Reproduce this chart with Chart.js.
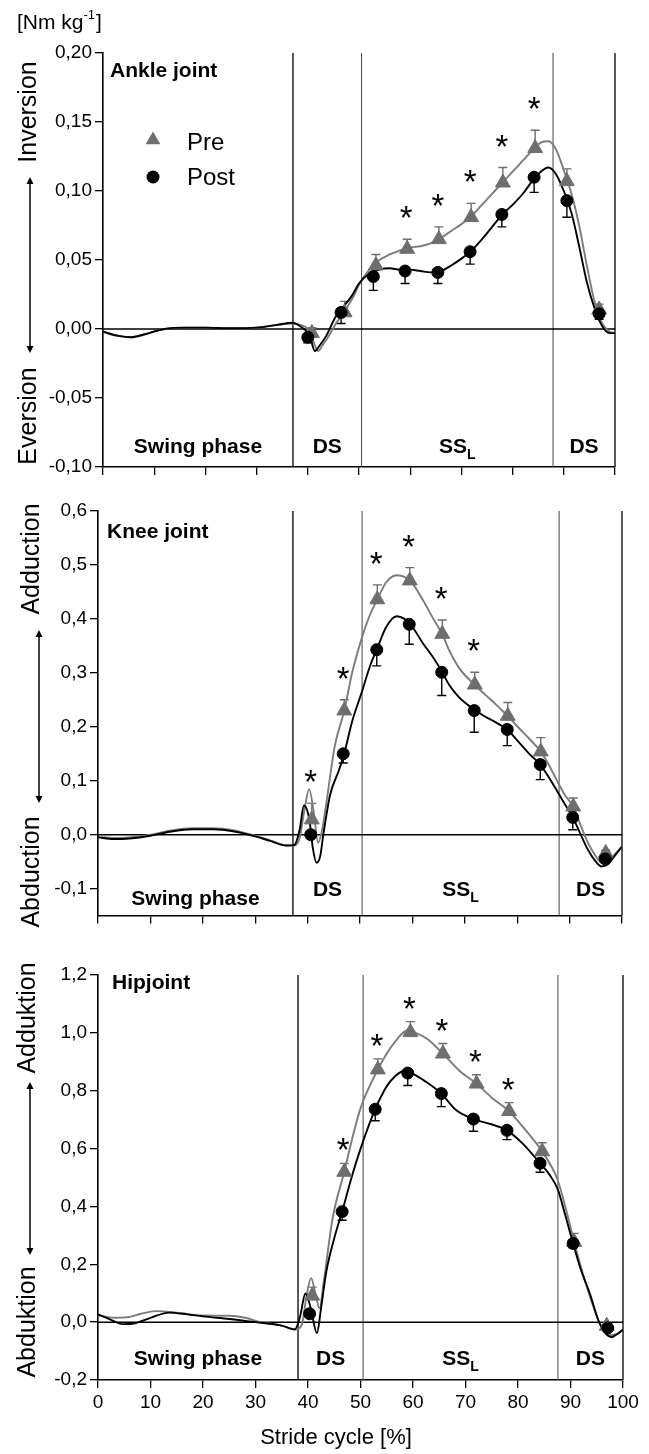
<!DOCTYPE html>
<html lang="en">
<head>
<meta charset="UTF-8">
<meta name="viewport" content="width=device-width, initial-scale=1.0">
<title>Joint moments - Pre vs Post</title>
<script src="https://cdn.jsdelivr.net/npm/chart.js"></script>
<style>
    html, body { margin: 0; padding: 0; background: #fff; }
    body { position: relative; width: 649px; height: 1454px; overflow: hidden; }
    canvas { position: absolute; left: 0; }
</style>
</head>
<body>
<canvas id="ankle" width="649" height="490" style="top:0px"></canvas>
<canvas id="knee" width="649" height="440" style="top:490px"></canvas>
<canvas id="hip" width="649" height="524" style="top:930px"></canvas>

<script>
// ---------- data ----------
const xTicks = [0, 10, 20, 30, 40, 50, 60, 70, 80, 90, 100];

// Ankle joint
const ankleTicks = [-0.10, -0.05, 0.00, 0.05, 0.10, 0.15, 0.20];
const anklePhases = [37.1, 50.5, 87.9, 100];
const anklePreCurveX = [0, 3, 5.5, 8, 12, 16, 20, 25, 30, 34, 37, 38.5, 40, 41, 42, 43, 44.1, 45.5, 47.2, 49, 50, 52, 54, 56, 58, 60, 62, 64, 66, 68, 70, 72, 74, 76, 78, 80, 82, 84, 85.5, 87, 88.5, 90, 91.5, 93, 94.5, 96, 97.5, 99, 100];
const anklePreCurve = [-0.002, -0.005, -0.006, -0.004, 0.000, 0.001, 0.001, 0.0005, 0.001, 0.003, 0.004, 0.003, 0.000, -0.008, -0.016, -0.011, -0.005, 0.004, 0.013, 0.024, 0.032, 0.043, 0.050, 0.054, 0.057, 0.059, 0.060, 0.062, 0.066, 0.071, 0.076, 0.082, 0.090, 0.098, 0.106, 0.114, 0.122, 0.130, 0.135, 0.136, 0.130, 0.115, 0.098, 0.075, 0.046, 0.020, 0.004, -0.002, -0.003];
const anklePostCurveX = [0, 3, 5.5, 8, 12, 16, 20, 25, 30, 34, 37, 38.5, 39.8, 40.6, 41.4, 42.3, 43.6, 45.3, 46.5, 48.6, 50, 52, 54, 56, 58, 60, 62, 64, 66, 68, 70, 72, 74, 76, 78, 80, 82, 84, 85.5, 87, 88.5, 90, 91.5, 93, 94.5, 96, 97.5, 99, 100];
const anklePostCurve = [-0.002, -0.005, -0.006, -0.004, 0.000, 0.001, 0.001, 0.0005, 0.001, 0.003, 0.0045, 0.002, -0.002, -0.008, -0.016, -0.012, -0.005, 0.008, 0.014, 0.024, 0.033, 0.040, 0.043, 0.044, 0.043, 0.043, 0.042, 0.041, 0.042, 0.046, 0.051, 0.057, 0.065, 0.074, 0.083, 0.090, 0.098, 0.108, 0.114, 0.117, 0.112, 0.100, 0.084, 0.060, 0.034, 0.015, 0.002, -0.003, -0.003];
const anklePreX = [40.8, 47.2, 53.3, 59.4, 65.6, 71.9, 78.1, 84.4, 90.6, 96.9];
const anklePre = [-0.003, 0.012, 0.046, 0.058, 0.065, 0.081, 0.106, 0.131, 0.107, 0.014];
const anklePreErr = [0.004, 0.008, 0.008, 0.007, 0.009, 0.010, 0.011, 0.013, 0.009, 0.004];
const anklePostX = [40.0, 46.5, 52.8, 59.0, 65.4, 71.7, 77.9, 84.2, 90.6, 96.9];
const anklePost = [-0.006, 0.012, 0.038, 0.042, 0.041, 0.056, 0.083, 0.110, 0.093, 0.011];
const anklePostErr = [0.004, 0.008, 0.010, 0.009, 0.008, 0.009, 0.009, 0.011, 0.012, 0.004];
const ankleSig = [0, 0, 0, 1, 1, 1, 1, 1, 0, 0];

// Knee joint
const kneeTicks = [-0.1, 0.0, 0.1, 0.2, 0.3, 0.4, 0.5, 0.6];
const kneePhases = [37.2, 50.4, 88.0, 100];
const kneePreCurveX = [0, 3, 6, 10, 14, 18, 22, 26, 30, 33, 36, 37.5, 38.5, 39.3, 40.3, 41.2, 42, 42.8, 43.6, 45.2, 47, 48.5, 50.3, 52, 53.3, 55, 57, 58.5, 60, 62, 64, 65.7, 67, 68.7, 70, 71.9, 73.5, 75, 76.5, 78.2, 80, 82.5, 84.5, 86, 87.5, 89, 90.7, 92, 93.5, 95, 96.1, 97.3, 98.3, 100];
const kneePreCurve = [-0.004, -0.006, -0.005, 0.000, 0.008, 0.012, 0.012, 0.008, -0.002, -0.011, -0.020, -0.020, -0.005, 0.040, 0.084, 0.040, -0.015, 0.010, 0.060, 0.165, 0.230, 0.300, 0.363, 0.410, 0.436, 0.468, 0.481, 0.478, 0.466, 0.435, 0.400, 0.372, 0.342, 0.312, 0.296, 0.278, 0.263, 0.250, 0.236, 0.220, 0.201, 0.176, 0.154, 0.130, 0.102, 0.075, 0.052, 0.020, -0.015, -0.040, -0.052, -0.052, -0.040, -0.022];
const kneePostCurveX = [0, 3, 6, 10, 14, 18, 22, 26, 30, 33, 36, 37.5, 38.5, 39.3, 40.3, 41, 41.7, 42.4, 43, 44.3, 46, 47, 48.5, 50.3, 52, 53.2, 55, 57, 58.5, 60, 62, 64, 65.6, 67, 68.7, 70, 71.8, 73.5, 75, 76.5, 78.1, 80, 82.5, 84.4, 86, 87.5, 89, 90.6, 92, 93.5, 95, 96.1, 97.3, 98.3, 100];
const kneePostCurve = [-0.005, -0.008, -0.007, -0.002, 0.006, 0.010, 0.010, 0.006, -0.003, -0.012, -0.020, -0.019, 0.010, 0.054, 0.030, -0.025, -0.052, -0.040, 0.000, 0.074, 0.120, 0.151, 0.210, 0.263, 0.315, 0.343, 0.385, 0.405, 0.400, 0.385, 0.355, 0.328, 0.303, 0.278, 0.257, 0.245, 0.232, 0.221, 0.213, 0.205, 0.195, 0.175, 0.148, 0.130, 0.107, 0.083, 0.058, 0.032, 0.003, -0.028, -0.050, -0.059, -0.055, -0.043, -0.022];
const kneePreX = [40.8, 47.0, 53.3, 59.5, 65.7, 71.9, 78.2, 84.5, 90.7, 96.9];
const kneePre = [0.028, 0.230, 0.436, 0.471, 0.372, 0.278, 0.220, 0.154, 0.052, -0.034];
const kneePreErr = [0.030, 0.020, 0.027, 0.024, 0.026, 0.023, 0.025, 0.026, 0.016, 0.005];
const kneePostX = [40.6, 46.8, 53.2, 59.4, 65.6, 71.8, 78.1, 84.4, 90.6, 96.8];
const kneePost = [0.000, 0.150, 0.343, 0.390, 0.301, 0.230, 0.195, 0.130, 0.032, -0.045];
const kneePostErr = [0.005, 0.017, 0.030, 0.037, 0.043, 0.040, 0.030, 0.028, 0.023, 0.005];
const kneeSig = [1, 1, 1, 1, 1, 1, 0, 0, 0, 0];

// Hip joint
const hipTicks = [-0.2, 0.0, 0.2, 0.4, 0.6, 0.8, 1.0, 1.2];
const hipPhases = [38.1, 50.5, 87.6, 100];
const hipPreCurveX = [0, 3.1, 6, 8, 11, 15, 20, 25, 28, 31, 35, 37.5, 38.8, 39.8, 40.6, 41.4, 42.2, 43, 44.7, 46.9, 48.5, 50, 53.3, 56.2, 59, 60.5, 62.8, 65.7, 68.9, 72.1, 75, 78.3, 81.6, 84.6, 87.5, 89, 90.7, 92, 93.5, 95.6, 97.5, 99, 100];
const hipPreCurve = [0.023, 0.015, 0.018, 0.028, 0.038, 0.033, 0.023, 0.022, 0.015, 0.000, -0.012, -0.026, -0.010, 0.100, 0.152, 0.100, 0.048, 0.140, 0.360, 0.519, 0.640, 0.739, 0.873, 0.960, 1.008, 1.000, 0.978, 0.928, 0.868, 0.824, 0.776, 0.729, 0.660, 0.590, 0.494, 0.400, 0.277, 0.190, 0.100, -0.005, -0.045, -0.040, -0.026];
const hipPostCurveX = [0, 2.5, 4.7, 7, 10, 13.6, 17, 20, 25, 30, 35, 37.5, 38.5, 39.5, 40.5, 41.7, 42.5, 43.5, 45, 46.5, 48.3, 50.1, 52.8, 54.5, 55.9, 58.3, 60, 62.2, 65.4, 68.2, 71.5, 74.9, 77.9, 80.9, 84.2, 86, 87.6, 89, 90.5, 92, 93.6, 95.6, 97.8, 99, 100];
const hipPostCurve = [0.027, 0.008, -0.007, -0.004, 0.015, 0.033, 0.027, 0.020, 0.011, 0.000, -0.012, -0.025, 0.020, 0.099, 0.050, -0.038, 0.050, 0.176, 0.290, 0.382, 0.500, 0.604, 0.736, 0.800, 0.837, 0.868, 0.858, 0.834, 0.790, 0.733, 0.702, 0.684, 0.663, 0.617, 0.549, 0.510, 0.458, 0.370, 0.272, 0.180, 0.103, -0.007, -0.052, -0.040, -0.026];
const hipPreX = [40.8, 46.9, 53.3, 59.5, 65.7, 72.1, 78.3, 84.6, 90.7, 96.9];
const hipPre = [0.091, 0.519, 0.873, 1.002, 0.928, 0.824, 0.729, 0.590, 0.277, -0.013];
const hipPreErr = [0.030, 0.030, 0.037, 0.037, 0.035, 0.031, 0.030, 0.030, 0.030, 0.005];
const hipPostX = [40.3, 46.5, 52.8, 59.0, 65.4, 71.5, 77.9, 84.2, 90.5, 97.1];
const hipPost = [0.029, 0.382, 0.736, 0.861, 0.790, 0.702, 0.663, 0.549, 0.272, -0.020];
const hipPostErr = [0.010, 0.030, 0.040, 0.043, 0.045, 0.042, 0.032, 0.031, 0.015, 0.005];
const hipSig = [0, 1, 1, 1, 1, 1, 1, 0, 0, 0];

// ---------- styling ----------
const FONT = '"Liberation Sans", Arial, Helvetica, sans-serif';
const GRAY = '#6e6e6e';
const GRAY_LINE = '#7c7c7c';
const TRI_R = 8.6;   // triangle marker radius
const DOT_R = 6;     // circle marker radius

function pts(xs, ys) {
    return xs.map((x, i) => ({ x: x, y: ys[i] }));
}

// panel layout (page pixel coordinates)
const panels = [
    {
        id: 'ankle', top: 0, area: { left: 103, right: 615, top: 53, bottom: 467 },
        min: -0.10, max: 0.20, yTicks: ankleTicks, decimals: 2, phases: anklePhases,
        preCurveX: anklePreCurveX, preCurve: anklePreCurve, postCurveX: anklePostCurveX, postCurve: anklePostCurve,
        preX: anklePreX, pre: anklePre, preErr: anklePreErr, postX: anklePostX, post: anklePost, postErr: anklePostErr, sig: ankleSig,
        title: 'Ankle joint', titleX: 110, titleY: 71,
        up: 'Inversion', upY: 112, down: 'Eversion', downY: 416, sideX: 29, arrowX: 30, arrowTop: 177, arrowBottom: 353,
        swingY: 447, dsY: 447, starOffset: 27, xLabels: false, legend: true, unit: true
    },
    {
        id: 'knee', top: 490, area: { left: 98, right: 622, top: 511, bottom: 916 },
        min: -0.15, max: 0.60, yTicks: kneeTicks, decimals: 1, phases: kneePhases,
        preCurveX: kneePreCurveX, preCurve: kneePreCurve, postCurveX: kneePostCurveX, postCurve: kneePostCurve,
        preX: kneePreX, pre: kneePre, preErr: kneePreErr, postX: kneePostX, post: kneePost, postErr: kneePostErr, sig: kneeSig,
        title: 'Knee joint', titleX: 107, titleY: 532,
        up: 'Adduction', upY: 559, down: 'Abduction', downY: 872, sideX: 32, arrowX: 39, arrowTop: 630, arrowBottom: 803,
        swingY: 899, dsY: 890, starOffset: 27, xLabels: false
    },
    {
        id: 'hip', top: 930, area: { left: 98, right: 623, top: 975, bottom: 1380 },
        min: -0.2, max: 1.2, yTicks: hipTicks, decimals: 1, phases: hipPhases,
        preCurveX: hipPreCurveX, preCurve: hipPreCurve, postCurveX: hipPostCurveX, postCurve: hipPostCurve,
        preX: hipPreX, pre: hipPre, preErr: hipPreErr, postX: hipPostX, post: hipPost, postErr: hipPostErr, sig: hipSig,
        title: 'Hipjoint', titleX: 112, titleY: 983,
        up: 'Adduktion', upY: 1018, down: 'Abduktion', downY: 1322, sideX: 28, arrowX: 30, arrowTop: 1082, arrowBottom: 1255,
        swingY: 1359, dsY: 1359, starOffset: 19, xLabels: true, xTitle: 'Stride cycle [%]', xTitleX: 336, xTitleY: 1438
    }
];

function label(ctx, str, x, y, font, align) {
    ctx.font = font;
    ctx.textAlign = align || 'center';
    ctx.textBaseline = 'middle';
    ctx.fillStyle = '#000';
    ctx.fillText(str, x, y);
}

function vArrow(ctx, x, y1, y2) {
    ctx.strokeStyle = '#000';
    ctx.fillStyle = '#000';
    ctx.lineWidth = 1.5;
    ctx.beginPath(); ctx.moveTo(x, y1 + 5); ctx.lineTo(x, y2 - 5); ctx.stroke();
    ctx.beginPath(); ctx.moveTo(x, y1); ctx.lineTo(x - 3.5, y1 + 7); ctx.lineTo(x + 3.5, y1 + 7); ctx.closePath(); ctx.fill();
    ctx.beginPath(); ctx.moveTo(x, y2); ctx.lineTo(x - 3.5, y2 - 7); ctx.lineTo(x + 3.5, y2 - 7); ctx.closePath(); ctx.fill();
}

function errBars(ctx, xs, ys, X, Y, E, dir, color) {
    ctx.strokeStyle = color;
    ctx.lineWidth = 1.4;
    X.forEach((x, i) => {
        const px = xs.getPixelForValue(x);
        const y1 = ys.getPixelForValue(Y[i]);
        const y2 = ys.getPixelForValue(Y[i] + dir * E[i]);
        ctx.beginPath();
        ctx.moveTo(px, y1); ctx.lineTo(px, y2);
        ctx.moveTo(px - 4.5, y2); ctx.lineTo(px + 4.5, y2);
        ctx.stroke();
    });
}

function drawStar(ctx, cx, cy) {
    ctx.font = '33px ' + FONT;
    const m = ctx.measureText('*');
    ctx.textAlign = 'center';
    ctx.textBaseline = 'alphabetic';
    ctx.fillStyle = '#000';
    ctx.fillText('*', cx, cy + (m.actualBoundingBoxAscent - m.actualBoundingBoxDescent) / 2);
}

function decor(p) {
    return {
        id: 'decor_' + p.id,
        beforeDatasetsDraw(chart) {
            const ctx = chart.ctx, a = chart.chartArea, xs = chart.scales.x, ys = chart.scales.y;
            ctx.save();
            // phase boundaries
            p.phases.forEach((ph, i) => {
                const x = xs.getPixelForValue(ph);
                const strong = i === 0 || i === p.phases.length - 1;
                ctx.strokeStyle = strong ? '#222' : '#555';
                ctx.lineWidth = strong ? 1.5 : 1.1;
                ctx.beginPath(); ctx.moveTo(x, a.top); ctx.lineTo(x, a.bottom); ctx.stroke();
            });
            // zero line
            const y0 = ys.getPixelForValue(0);
            ctx.strokeStyle = '#000';
            ctx.lineWidth = 1.5;
            ctx.beginPath(); ctx.moveTo(a.left, y0); ctx.lineTo(a.right, y0); ctx.stroke();
            // error bars: Pre upward, Post downward
            errBars(ctx, xs, ys, p.preX, p.pre, p.preErr, 1, GRAY);
            errBars(ctx, xs, ys, p.postX, p.post, p.postErr, -1, '#000');
            ctx.restore();
        },
        afterDatasetsDraw(chart) {
            const ctx = chart.ctx, xs = chart.scales.x, ys = chart.scales.y;
            const off = p.top;
            ctx.save();
            // significance marks
            p.sig.forEach((s, i) => {
                if (!s) return;
                const cx = xs.getPixelForValue(p.preX[i]) - 1;
                const cy = ys.getPixelForValue(p.pre[i] + p.preErr[i]) - p.starOffset;
                drawStar(ctx, cx, cy);
            });
            // panel title
            label(ctx, p.title, p.titleX, p.titleY - off, 'bold 21px ' + FONT, 'left');
            // phase labels
            const ph = p.phases;
            const mid = (u, v) => (xs.getPixelForValue(u) + xs.getPixelForValue(v)) / 2;
            const bold = 'bold 21px ' + FONT;
            label(ctx, 'Swing phase', mid(0, ph[0]), p.swingY - off, bold);
            label(ctx, 'DS', mid(ph[0], ph[1]), p.dsY - off, bold);
            label(ctx, 'DS', mid(ph[2], ph[3]), p.dsY - off, bold);
            ctx.font = bold;
            const wSS = ctx.measureText('SS').width;
            ctx.font = 'bold 14px ' + FONT;
            const wL = ctx.measureText('L').width;
            const sx = mid(ph[1], ph[2]) - (wSS + wL) / 2;
            label(ctx, 'SS', sx, p.dsY - off, bold, 'left');
            label(ctx, 'L', sx + wSS, p.dsY - off + 8, 'bold 14px ' + FONT, 'left');
            // side labels with double arrow
            const sideFont = '25px ' + FONT;
            [[p.up, p.upY], [p.down, p.downY]].forEach(([t, y]) => {
                ctx.save();
                ctx.translate(p.sideX, y - off);
                ctx.rotate(-Math.PI / 2);
                label(ctx, t, 0, 0, sideFont);
                ctx.restore();
            });
            vArrow(ctx, p.arrowX, p.arrowTop - off, p.arrowBottom - off);
            // legend
            if (p.legend) {
                const tx = 153, ty = 140 - off, r = TRI_R;
                ctx.fillStyle = GRAY;
                ctx.beginPath();
                ctx.moveTo(tx, ty - r);
                ctx.lineTo(tx + r * Math.sin(2 * Math.PI / 3), ty - r * Math.cos(2 * Math.PI / 3));
                ctx.lineTo(tx + r * Math.sin(4 * Math.PI / 3), ty - r * Math.cos(4 * Math.PI / 3));
                ctx.closePath(); ctx.fill();
                ctx.fillStyle = '#000';
                ctx.beginPath(); ctx.arc(153, 177 - off, DOT_R + 0.5, 0, Math.PI * 2); ctx.fill();
                label(ctx, 'Pre', 187, 143 - off, '24px ' + FONT, 'left');
                label(ctx, 'Post', 187, 178 - off, '24px ' + FONT, 'left');
            }
            // unit label
            if (p.unit) {
                const f = '21px ' + FONT;
                label(ctx, '[Nm kg', 17, 23, f, 'left');
                ctx.font = f;
                const w1 = ctx.measureText('[Nm kg').width;
                label(ctx, '-1', 17 + w1, 15, '13px ' + FONT, 'left');
                ctx.font = '13px ' + FONT;
                const w2 = ctx.measureText('-1').width;
                label(ctx, ']', 17 + w1 + w2 + 1, 23, f, 'left');
            }
            // x axis title
            if (p.xTitle) {
                label(ctx, p.xTitle, p.xTitleX, p.xTitleY - off, '22px ' + FONT);
            }
            ctx.restore();
        }
    };
}

function makeChart(p) {
    const canvas = document.getElementById(p.id);
    const H = canvas.height;
    const axisGrid = { drawOnChartArea: false, drawTicks: true, tickLength: 8, color: '#000', lineWidth: 1.3 };
    const axisBorder = { display: true, color: '#000', width: 1.6 };
    return new Chart(canvas, {
        type: 'line',
        data: {
            datasets: [
                { label: 'Post', data: pts(p.postX, p.post), showLine: false, pointStyle: 'circle', pointRadius: DOT_R,
                  pointBackgroundColor: '#000', pointBorderColor: '#000', pointBorderWidth: 1 },
                { label: 'Pre', data: pts(p.preX, p.pre), showLine: false, pointStyle: 'triangle', pointRadius: TRI_R,
                  pointBackgroundColor: GRAY, pointBorderColor: GRAY, pointBorderWidth: 1 },
                { label: 'Post mean', data: pts(p.postCurveX, p.postCurve), borderColor: '#000', borderWidth: 1.9,
                  pointRadius: 0, cubicInterpolationMode: 'monotone', fill: false },
                { label: 'Pre mean', data: pts(p.preCurveX, p.preCurve), borderColor: GRAY_LINE, borderWidth: 1.9,
                  pointRadius: 0, cubicInterpolationMode: 'monotone', fill: false }
            ]
        },
        options: {
            responsive: false,
            animation: false,
            devicePixelRatio: 1,
            events: [],
            layout: { padding: { left: 0, right: 649 - p.area.right, top: p.area.top - p.top, bottom: 0 } },
            plugins: { legend: { display: false }, tooltip: { enabled: false } },
            scales: {
                x: {
                    type: 'linear', min: 0, max: 100,
                    afterBuildTicks: ax => { ax.ticks = xTicks.map(v => ({ value: v })); },
                    afterFit: ax => { ax.height = H - (p.area.bottom - p.top); },
                    grid: axisGrid, border: axisBorder,
                    ticks: { display: p.xLabels, color: '#000', font: { family: FONT, size: 19 }, padding: 3,
                             maxRotation: 0, autoSkip: false }
                },
                y: {
                    type: 'linear', min: p.min, max: p.max,
                    afterBuildTicks: ax => { ax.ticks = p.yTicks.map(v => ({ value: v })); },
                    afterFit: ax => { ax.width = p.area.left; },
                    grid: axisGrid, border: axisBorder,
                    ticks: { color: '#000', font: { family: FONT, size: 19 }, padding: 3, autoSkip: false,
                             callback: v => v.toFixed(p.decimals).replace('.', ',') }
                }
            }
        },
        plugins: [decor(p)]
    });
}

panels.forEach(makeChart);
</script>
</body>
</html>
